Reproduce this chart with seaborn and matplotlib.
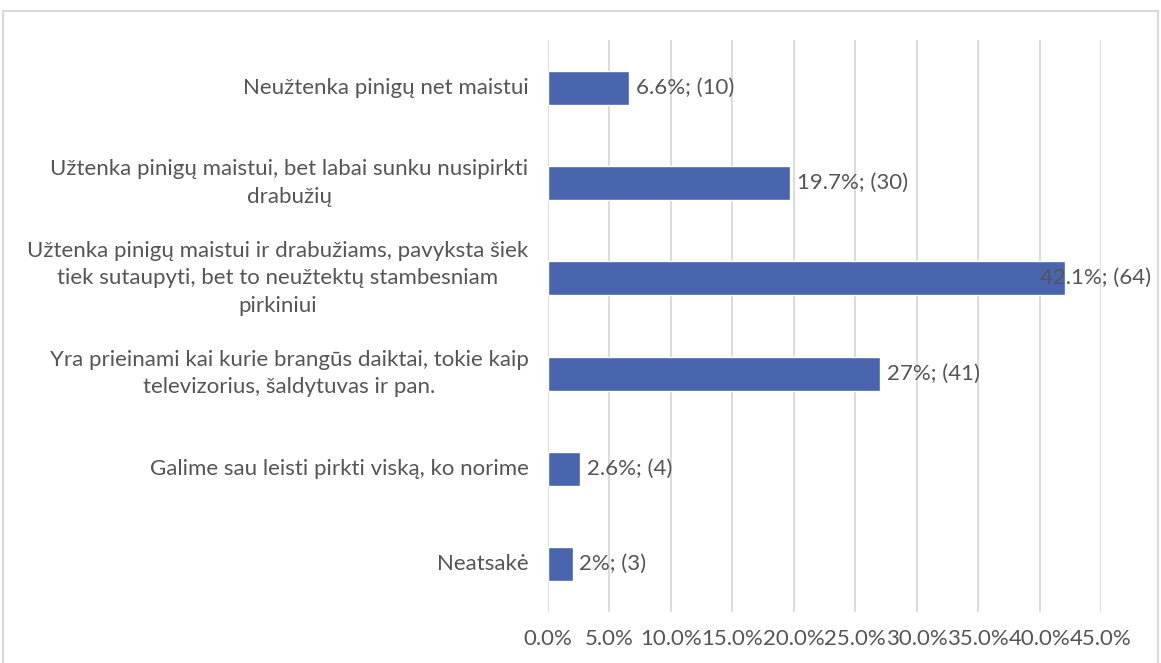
import matplotlib
matplotlib.use("Agg")
import matplotlib.pyplot as plt
import seaborn as sns
import pandas as pd
from matplotlib.patches import Rectangle
from matplotlib.ticker import FuncFormatter, MultipleLocator

categories = [
    "Neužtenka pinigų net maistui",
    "Užtenka pinigų maistui, bet labai sunku nusipirkti\ndrabužių",
    "Užtenka pinigų maistui ir drabužiams, pavyksta šiek\ntiek sutaupyti, bet to neužtektų stambesniam\npirkiniui",
    "Yra prieinami kai kurie brangūs daiktai, tokie kaip\ntelevizorius, šaldytuvas ir pan.",
    "Galime sau leisti pirkti viską, ko norime",
    "Neatsakė",
]
percent = [6.6, 19.7, 42.1, 27.0, 2.6, 2.0]
counts = [10, 30, 64, 41, 4, 3]
value_labels = ["6.6%; (10)", "19.7%; (30)", "42.1%; (64)", "27%; (41)", "2.6%; (4)", "2%; (3)"]

df = pd.DataFrame({"category": categories, "percent": percent})

sns.set_theme(style="white")
plt.rcParams["font.family"] = ["Lato", "DejaVu Sans"]

text_color = "#555555"
bar_color = "#4865AD"
grid_color = "#D9D9D9"
fs = 16

fig = plt.figure(figsize=(11.61, 6.63), dpi=100)
ax = fig.add_axes([548 / 1161, 1 - 612 / 663, (1101 - 548) / 1161, (612 - 40) / 663])

sns.barplot(data=df, x="percent", y="category", orient="h", color=bar_color,
            width=0.36, ax=ax, saturation=1)

ax.set_xlim(0, 45)
ax.set_ylim(5.5, -0.5)
ax.xaxis.set_major_locator(MultipleLocator(5))
ax.xaxis.set_major_formatter(FuncFormatter(lambda v, p: f"{v:.1f}%"))
ax.grid(axis="x", color=grid_color, linewidth=1.3)
ax.set_axisbelow(True)
for s in ax.spines.values():
    s.set_visible(False)
ax.set_xlabel("")
ax.set_ylabel("")
ax.tick_params(axis="x", length=0, pad=12, labelsize=fs, labelcolor=text_color)
ax.tick_params(axis="y", length=0, labelleft=False)

# category labels, placed at each category position on the y scale
for i, cat in enumerate(categories):
    ax.annotate(cat, xy=(0, i), xycoords=("axes fraction", "data"),
                xytext=(-14, 0), textcoords="offset points",
                ha="right", va="center", multialignment="center",
                linespacing=1.45, fontsize=fs, color=text_color)

for i, (v, lab) in enumerate(zip(percent, value_labels)):
    x = min(v + 0.55, 40.0)
    ax.text(x, i, lab, va="center", ha="left", fontsize=fs, color=text_color, clip_on=False)

fig.patches.append(Rectangle((3 / 1161, -0.1), (1158 - 3) / 1161, 1.1 - 11 / 663,
                             transform=fig.transFigure, fill=False,
                             edgecolor=grid_color, linewidth=1.5))

fig.savefig("out.png", dpi=100)
